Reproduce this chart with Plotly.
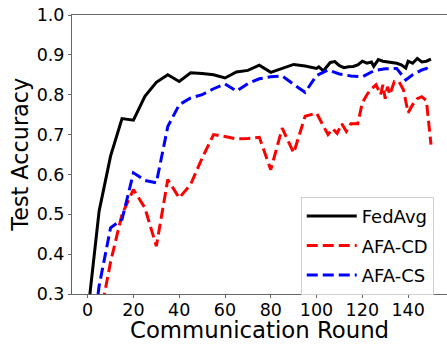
import plotly.graph_objects as go

# FedAvg
fedavg_x = [0, 5, 10, 15, 20, 25, 30, 35, 40, 45, 50, 55, 60, 65, 70, 75, 80, 85, 90, 95, 100,
            101, 103, 106, 108, 110, 112, 114, 116, 118, 120, 122, 124, 125, 127, 129, 131, 133,
            135, 137, 139, 140, 142, 144, 146, 148, 150]
fedavg_y = [0.25, 0.508, 0.646, 0.74, 0.736, 0.796, 0.831, 0.85, 0.833, 0.855, 0.853, 0.85, 0.842,
            0.857, 0.861, 0.874, 0.856, 0.866, 0.876, 0.872, 0.866,
            0.87, 0.86, 0.881, 0.883, 0.873, 0.868, 0.870, 0.871, 0.875, 0.884, 0.879, 0.882, 0.871,
            0.888, 0.884, 0.882, 0.880, 0.879, 0.875, 0.867, 0.884, 0.879, 0.891, 0.882, 0.884, 0.889]

# AFA-CD
afacd_x = [0, 5, 10, 15, 20, 25, 30, 35, 40, 45, 50, 55, 60, 65, 70, 75, 80, 85, 90, 95, 100,
           105, 107, 109, 111, 113, 115, 118, 120, 122, 124, 126, 128, 129, 130, 131, 132, 134,
           136, 138, 140, 142, 144, 146, 148, 150]
afacd_y = [0.12, 0.23, 0.38, 0.50, 0.562, 0.516, 0.42, 0.587, 0.541, 0.575, 0.641, 0.70, 0.695,
           0.689, 0.69, 0.693, 0.612, 0.716, 0.654, 0.746, 0.754,
           0.70, 0.715, 0.703, 0.727, 0.708, 0.727, 0.727, 0.78, 0.80, 0.815, 0.825, 0.80, 0.825,
           0.79, 0.82, 0.80, 0.833, 0.833, 0.812, 0.755, 0.775, 0.79, 0.795, 0.785, 0.675]

# AFA-CS
afacs_x = [0, 5, 10, 15, 20, 25, 30, 35, 40, 45, 50, 55, 60, 65, 70, 75, 80, 85, 90, 95, 100,
           105, 110, 115, 120, 125, 130, 135, 139, 142, 146, 148, 150]
afacs_y = [0.10, 0.32, 0.466, 0.487, 0.604, 0.585, 0.579, 0.72, 0.775, 0.792, 0.80, 0.815, 0.827,
           0.809, 0.828, 0.84, 0.845, 0.847, 0.826, 0.806, 0.848,
           0.862, 0.852, 0.847, 0.845, 0.86, 0.865, 0.866, 0.837, 0.85, 0.862, 0.866, 0.855]

x_ticks = [0, 20, 40, 60, 80, 100, 120, 140]
y_ticks = [0.3, 0.4, 0.5, 0.6, 0.7, 0.8, 0.9, 1.0]
y_tick_labels = ["0.3", "0.4", "0.5", "0.6", "0.7", "0.8", "0.9", "1.0"]

FONT = "DejaVu Sans"

fig = go.Figure()
fig.add_trace(go.Scatter(x=fedavg_x, y=fedavg_y, mode="lines", name="FedAvg", legendgroup="a",
                         line=dict(color="black", width=3)))
fig.add_trace(go.Scatter(x=afacd_x, y=afacd_y, mode="lines", name="AFA-CD", legendgroup="b",
                         line=dict(color="red", width=3, dash="11px,5px")))
fig.add_trace(go.Scatter(x=afacs_x, y=afacs_y, mode="lines", name="AFA-CS", legendgroup="c",
                         line=dict(color="blue", width=3, dash="11px,5px")))

fig.update_layout(
    width=447, height=345,
    margin=dict(l=72, r=0, t=15, b=51),
    plot_bgcolor="white", paper_bgcolor="white",
    font=dict(family=FONT, size=17.5, color="black"),
    showlegend=True,
    legend=dict(x=0.61, y=0.348, xanchor="left", yanchor="top",
                bgcolor="rgba(255,255,255,0.8)", bordercolor="#d0d0d0", borderwidth=1,
                font=dict(family=FONT, size=18), tracegroupgap=3, itemwidth=50),
    xaxis=dict(range=[-6.85, 157.0], tickvals=x_ticks, showgrid=False, zeroline=False,
               showline=True, linecolor="#666", linewidth=1, mirror=True,
               ticks="outside", ticklen=3, tickcolor="#666", ticklabelstandoff=-3),
    yaxis=dict(range=[0.3, 1.0], tickvals=y_ticks, ticktext=y_tick_labels, showgrid=False,
               zeroline=False, showline=True, linecolor="#666", linewidth=1, mirror=False,
               ticks="outside", ticklen=3, tickcolor="#666"),
    annotations=[
        dict(text="Communication Round", xref="paper", yref="paper", x=0.5, y=-0.1828,
             xanchor="center", yanchor="bottom", showarrow=False, font=dict(size=22.8)),
        dict(text="Test Accuracy", xref="paper", yref="paper", x=-0.141, y=0.5,
             xanchor="center", yanchor="middle", textangle=-90, showarrow=False,
             font=dict(size=22.3)),
    ],
)

fig.write_html("out.html")
